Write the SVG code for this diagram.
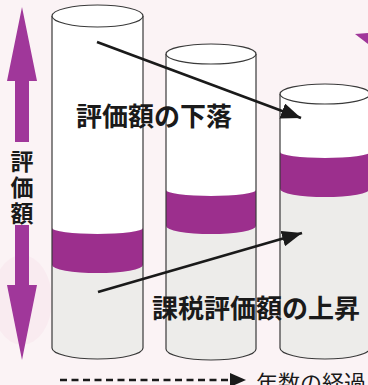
<svg xmlns="http://www.w3.org/2000/svg" width="368" height="385" viewBox="0 0 368 385">
<style>
.grey{fill:#edecea}
.white{fill:#ffffff}
.band{fill:#9c2f8d}
.outline{fill:none;stroke:#3a3a3a;stroke-width:1.2}
.top{fill:#ffffff;stroke:#3a3a3a;stroke-width:1.2}
.lbl{font-family:"Noto Sans CJK JP",sans-serif;font-weight:bold;fill:#1a1a1a}
.conn{stroke:#1a1a1a;stroke-width:2.6;fill:none}
.purple{fill:#a0379a}
</style>
<defs>
<marker id="ah" markerUnits="userSpaceOnUse" markerWidth="22" markerHeight="16" refX="20" refY="8" orient="auto">
<path d="M0,0 L20,8 L0,16 Z" fill="#1a1a1a"/>
</marker>
</defs>
<rect width="368" height="385" fill="#fbf3f5"/>
<ellipse cx="22" cy="300" rx="30" ry="45" fill="#f9ebf0"/>
<g id="axis">
<polygon class="purple" points="22,7 37,81 29,81 29,142 15,142 15,81 7,81"/>
<polygon class="purple" points="15,225 29,225 29,285 37,285 22,360 7,285 15,285"/>
<text class="lbl" font-size="23" text-anchor="middle"><tspan x="22" y="170">評</tspan><tspan x="22" y="196">価</tspan><tspan x="22" y="222">額</tspan></text>
</g>
<polygon class="purple" points="355,34 368,33 368,44"/>
<g id="cyl1">
<path class="grey" d="M52,16 V348 A45.5,11 0 0 0 143,348 V16 Z"/>
<path class="white" d="M52,16 V228 A45.5,6 0 0 0 143,228 V16 Z"/>
<path class="band" d="M52,228 A45.5,6 0 0 0 143,228 V265 A45.5,8 0 0 1 52,265 Z"/>
<path class="outline" d="M52,16 V348 A45.5,11 0 0 0 143,348 V16"/>
<ellipse class="top" cx="97.5" cy="16" rx="45.5" ry="11"/>
</g>
<g id="cyl2">
<path class="grey" d="M166,54 V349 A45,11 0 0 0 256,349 V54 Z"/>
<path class="white" d="M166,54 V190 A45,6 0 0 0 256,190 V54 Z"/>
<path class="band" d="M166,190 A45,6 0 0 0 256,190 V226 A45,8 0 0 1 166,226 Z"/>
<path class="outline" d="M166,54 V349 A45,11 0 0 0 256,349 V54"/>
<ellipse class="top" cx="211" cy="54" rx="45" ry="10"/>
</g>
<g id="cyl3">
<path class="grey" d="M280,94 V348 A45,11 0 0 0 370,348 V94 Z"/>
<path class="white" d="M280,94 V152 A45,6 0 0 0 370,152 V94 Z"/>
<path class="band" d="M280,152 A45,6 0 0 0 370,152 V189 A45,8 0 0 1 280,189 Z"/>
<path class="outline" d="M280,94 V348 A45,11 0 0 0 370,348 V94"/>
<ellipse class="top" cx="325" cy="94" rx="45" ry="10"/>
</g>
<g id="connectors">
<line class="conn" x1="97" y1="42" x2="301" y2="118" marker-end="url(#ah)"/>
<line class="conn" x1="98" y1="292" x2="302" y2="233" marker-end="url(#ah)"/>
<line class="conn" x1="60" y1="380" x2="232" y2="380" stroke-dasharray="7 4.5"/>
<polygon points="230,373 246,380 230,387" fill="#1a1a1a"/>
</g>
<g id="labels">
<text class="lbl" x="76" y="126" font-size="26">評価額の下落</text>
<text class="lbl" x="152" y="318" font-size="26">課税評価額の上昇</text>
<text x="256" y="391" font-size="22" font-family="'Noto Sans CJK JP',sans-serif" fill="#1a1a1a">年数の経過</text>
</g>
</svg>
